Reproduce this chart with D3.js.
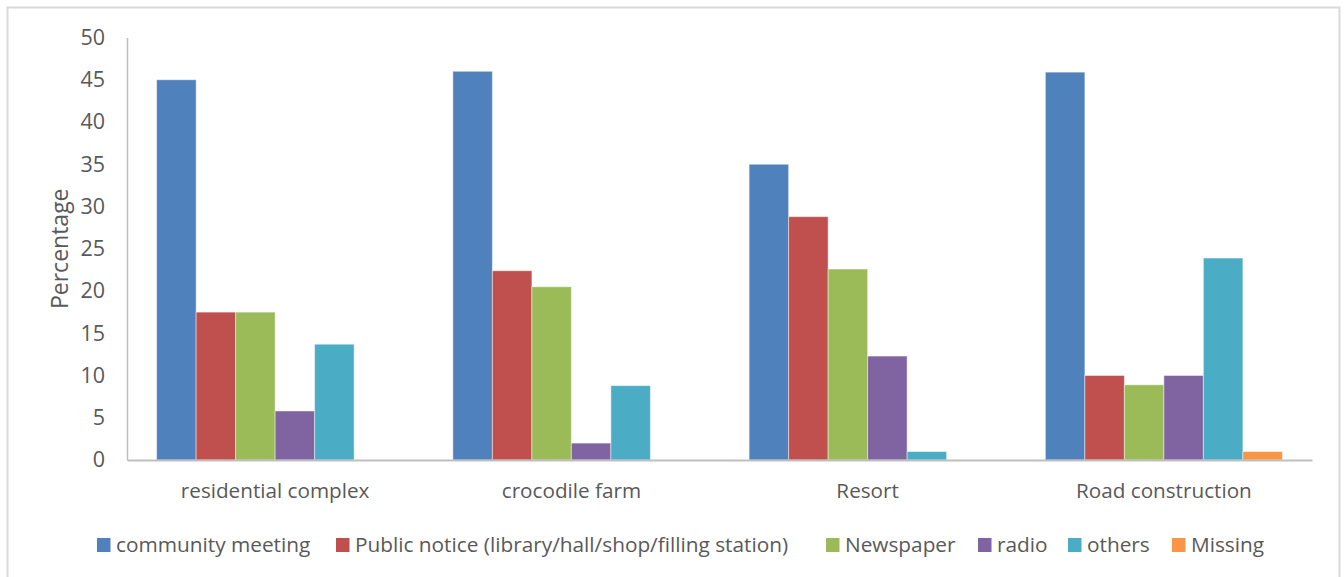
<!DOCTYPE html>
<html>
<head>
<meta charset="utf-8">
<script src="https://cdn.jsdelivr.net/npm/d3@7"></script>
<style>
  html, body { margin: 0; padding: 0; background: #ffffff; }
  svg text { font-family: "Open Sans", "DejaVu Sans", sans-serif; fill: #595959; }
</style>
</head>
<body>
<svg id="chart" width="1344" height="577"></svg>
<script>
// Sites surveyed
const categories = ["residential complex", "crocodile farm", "Resort", "Road construction"];

// Information channels (one series each)
const seriesNames = [
  "community meeting",
  "Public notice (library/hall/shop/filling station)",
  "Newspaper",
  "radio",
  "others",
  "Missing"
];
const seriesColors = ["#4f81bd", "#c0504d", "#9bbb59", "#8064a2", "#4bacc6", "#f79646"];

// Percentage per site, per channel
const communityMeeting = [45.0, 46.0, 35.0, 45.9];
const publicNotice     = [17.5, 22.4, 28.8, 10.0];
const newspaper        = [17.5, 20.5, 22.6, 8.9];
const radio            = [5.8, 2.0, 12.3, 10.0];
const others           = [13.7, 8.8, 1.0, 23.9];
const missing          = [0, 0, 0, 1.0];

const yTicks = [0, 5, 10, 15, 20, 25, 30, 35, 40, 45, 50];

const seriesValues = [communityMeeting, publicNotice, newspaper, radio, others, missing];

const svg = d3.select("#chart");

// outer chart frame
svg.append("rect")
  .attr("x", 7.5).attr("y", 7.5)
  .attr("width", 1332).attr("height", 600)
  .attr("fill", "none").attr("stroke", "#d9d9d9").attr("stroke-width", 2);

const plot = { left: 127, right: 1312, top: 37.5, bottom: 460 };

const x0 = d3.scaleBand()
  .domain(categories)
  .range([plot.left, plot.right])
  .padding(0);

const x1 = d3.scaleBand()
  .domain(seriesNames)
  .range([0, x0.bandwidth()])
  .paddingInner(0)
  .paddingOuter(0.75);

const y = d3.scaleLinear()
  .domain([0, 50])
  .range([plot.bottom, plot.top]);

// bars
const groups = svg.append("g")
  .selectAll("g")
  .data(categories)
  .join("g")
  .attr("transform", d => `translate(${x0(d)},0)`);

groups.selectAll("rect")
  .data((c, ci) => seriesNames.map((s, si) => ({ s, si, v: seriesValues[si][ci] })))
  .join("rect")
  .filter(d => d.v > 0)
  .attr("x", d => x1(d.s))
  .attr("y", d => y(d.v))
  .attr("width", x1.bandwidth())
  .attr("height", d => y(0) - y(d.v))
  .attr("fill", d => seriesColors[d.si])
  .attr("stroke", "#ffffff")
  .attr("stroke-opacity", 0.45)
  .attr("stroke-width", 1);

// y axis
const yAxis = svg.append("g")
  .attr("transform", `translate(${plot.left},0)`)
  .call(d3.axisLeft(y).tickValues(yTicks).tickSize(0).tickPadding(22));
yAxis.select(".domain").attr("stroke", "#bfbfbf").attr("stroke-width", 1.5);
yAxis.selectAll("text").attr("font-size", 21.5).style("fill", "#595959");

// x axis
const xAxis = svg.append("g")
  .attr("transform", `translate(0,${plot.bottom})`)
  .call(d3.axisBottom(x0).tickSize(0).tickPadding(23));
xAxis.select(".domain").attr("stroke", "#bfbfbf").attr("stroke-width", 2);
xAxis.selectAll("text").attr("font-size", 20.7).style("fill", "#595959");

// y axis title
svg.append("text")
  .attr("transform", `translate(68,${(plot.top + plot.bottom) / 2}) rotate(-90)`)
  .attr("text-anchor", "middle")
  .attr("font-size", 23)
  .text("Percentage");

// legend
const legendX = [97, 336, 826, 978, 1068, 1172];
const legend = svg.append("g")
  .selectAll("g")
  .data(seriesNames)
  .join("g")
  .attr("transform", (d, i) => `translate(${legendX[i]},545)`);

legend.append("rect")
  .attr("x", 0).attr("y", -7)
  .attr("width", 13.5).attr("height", 14)
  .attr("fill", (d, i) => seriesColors[i]);

legend.append("text")
  .attr("x", 19).attr("y", 0)
  .attr("dy", "0.35em")
  .attr("font-size", 20.8)
  .text(d => d);
</script>
</body>
</html>
